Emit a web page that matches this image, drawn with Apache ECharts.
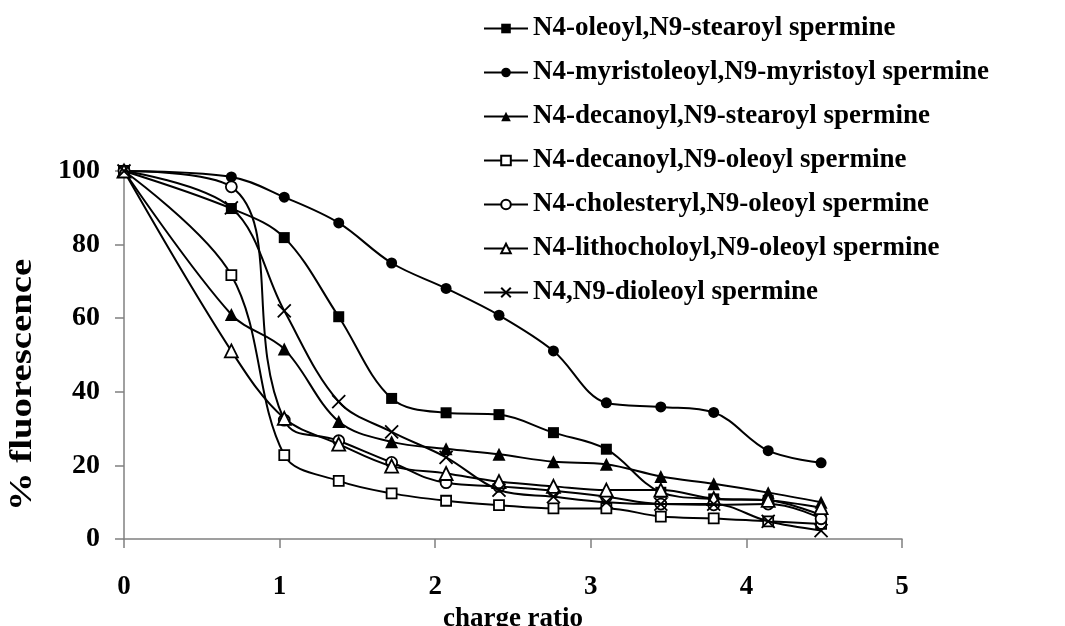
<!DOCTYPE html>
<html>
<head>
<meta charset="utf-8">
<script src="https://cdn.jsdelivr.net/npm/echarts@6/dist/echarts.min.js"></script>
<style>
    html, body { margin: 0; padding: 0; background: #fff; }
    #chartDom { width: 1065px; height: 626px; }
</style>
</head>
<body>
<div id="chartDom"></div>
<script>
    // charge ratio
    var chargeRatio = [0, 0.69, 1.03, 1.38, 1.72, 2.07, 2.41, 2.76, 3.10, 3.45, 3.79, 4.14, 4.48];

    // % fluorescence
    var oleoylStearoyl = [100, 89.8, 81.9, 60.4, 38.2, 34.3, 33.8, 28.9, 24.4, 12.7, 10.9, 10.5, 6.5];
    var myristoleoylMyristoyl = [100, 98.4, 92.9, 85.9, 75.0, 68.1, 60.8, 51.1, 37.0, 35.9, 34.4, 24.0, 20.7];
    var decanoylStearoyl = [100, 61.0, 51.6, 31.9, 26.4, 24.5, 23.0, 21.0, 20.3, 17.0, 15.0, 12.6, 10.0];
    var decanoylOleoyl = [100, 71.7, 22.8, 15.8, 12.4, 10.4, 9.2, 8.3, 8.3, 6.1, 5.6, 4.8, 4.1];
    var cholesterylOleoyl = [100, 95.7, 32.3, 26.7, 20.8, 15.3, 14.3, 13.1, 11.5, 9.5, 9.3, 9.5, 5.5];
    var lithocholoylOleoyl = [100, 51.1, 32.8, 25.8, 19.8, 17.8, 15.6, 14.3, 13.3, 13.3, 11.0, 10.5, 8.5];
    var dioleoyl = [100, 90.0, 62.0, 37.3, 29.1, 22.2, 13.3, 11.5, 10.0, 9.5, 9.5, 4.8, 2.3];

    var seriesNames = [
        'N4-oleoyl,N9-stearoyl spermine',
        'N4-myristoleoyl,N9-myristoyl spermine',
        'N4-decanoyl,N9-stearoyl spermine',
        'N4-decanoyl,N9-oleoyl spermine',
        'N4-cholesteryl,N9-oleoyl spermine',
        'N4-lithocholoyl,N9-oleoyl spermine',
        'N4,N9-dioleoyl spermine'
    ];
    var seriesValues = [oleoylStearoyl, myristoleoylMyristoyl, decanoylStearoyl, decanoylOleoyl,
        cholesterylOleoyl, lithocholoylOleoyl, dioleoyl];

    var fontFamily = '"Liberation Serif", "Times New Roman", serif';

    // marker look per series (the cholesteryl curve overshoots a little above 100 like the original)
    var markers = [
        { symbol: 'rect', size: 11, fill: '#000', smooth: 0.35 },
        { symbol: 'circle', size: 11, fill: '#000', smooth: 0.35 },
        { symbol: 'triangle', size: 13, fill: '#000', smooth: 0.35 },
        { symbol: 'rect', size: 10, fill: '#fff', smooth: 0.35 },
        { symbol: 'circle', size: 11, fill: '#fff', smooth: 0.45 },
        { symbol: 'triangle', size: 13, fill: '#fff', smooth: 0.35 },
        { symbol: 'path://M0,0L10,10M10,0L0,10', size: 13, fill: 'none', smooth: 0.35 }
    ];

    function pairs(values) {
        var out = [];
        for (var i = 0; i < values.length; i++) {
            out.push([chargeRatio[i], values[i]]);
        }
        return out;
    }

    var series = [];
    for (var i = 0; i < seriesNames.length; i++) {
        var m = markers[i];
        series.push({
            name: seriesNames[i],
            type: 'line',
            smooth: m.smooth,
            data: pairs(seriesValues[i]),
            symbol: m.symbol,
            symbolSize: m.size,
            showAllSymbol: true,
            lineStyle: { color: '#000', width: 2 },
            itemStyle: {
                color: m.fill,
                borderColor: '#000',
                borderWidth: m.fill == '#000' ? 0 : 1.8
            },
            emphasis: { disabled: true },
            z: 2 + i
        });
    }

    var chart = echarts.init(document.getElementById('chartDom'));
    chart.setOption({
        backgroundColor: '#fff',
        animation: false,
        textStyle: { fontFamily: fontFamily },
        legend: {
            orient: 'vertical',
            left: 478,
            top: 10,
            itemWidth: 44,
            itemHeight: 12,
            itemGap: 17,
            data: seriesNames,
            textStyle: {
                fontFamily: fontFamily,
                fontSize: 27,
                fontWeight: 'bold',
                color: '#000'
            }
        },
        // y axis title, a bit stretched like the original
        graphic: [{
            type: 'text',
            x: 23,
            y: 385,
            rotation: Math.PI / 2,
            scaleX: 1.25,
            style: {
                text: '% fluorescence',
                font: 'bold 31px ' + fontFamily,
                fill: '#000',
                align: 'center',
                verticalAlign: 'middle'
            }
        }],
        grid: {
            left: 124,
            top: 171,
            width: 778,
            height: 368,
            outerBoundsMode: 'none'
        },
        xAxis: {
            type: 'value',
            min: 0,
            max: 5,
            interval: 1,
            name: 'charge ratio',
            nameLocation: 'middle',
            nameGap: 64,
            nameTextStyle: { fontFamily: fontFamily, fontSize: 27, fontWeight: 'bold', color: '#000' },
            axisLine: { onZero: false, lineStyle: { color: '#808080', width: 1.5 } },
            axisTick: { show: true, length: 9, lineStyle: { color: '#808080', width: 1.5 } },
            axisLabel: { margin: 35, fontFamily: fontFamily, fontSize: 27, fontWeight: 'bold', color: '#000' },
            splitLine: { show: false }
        },
        yAxis: {
            type: 'value',
            min: 0,
            max: 100,
            interval: 20,
            axisLine: { show: true, lineStyle: { color: '#808080', width: 1.5 } },
            axisTick: { show: true, length: 9, lineStyle: { color: '#808080', width: 1.5 } },
            axisLabel: { margin: 24, fontFamily: fontFamily, fontSize: 28, fontWeight: 'bold', color: '#000' },
            splitLine: { show: false }
        },
        series: series
    });
</script>
</body>
</html>
